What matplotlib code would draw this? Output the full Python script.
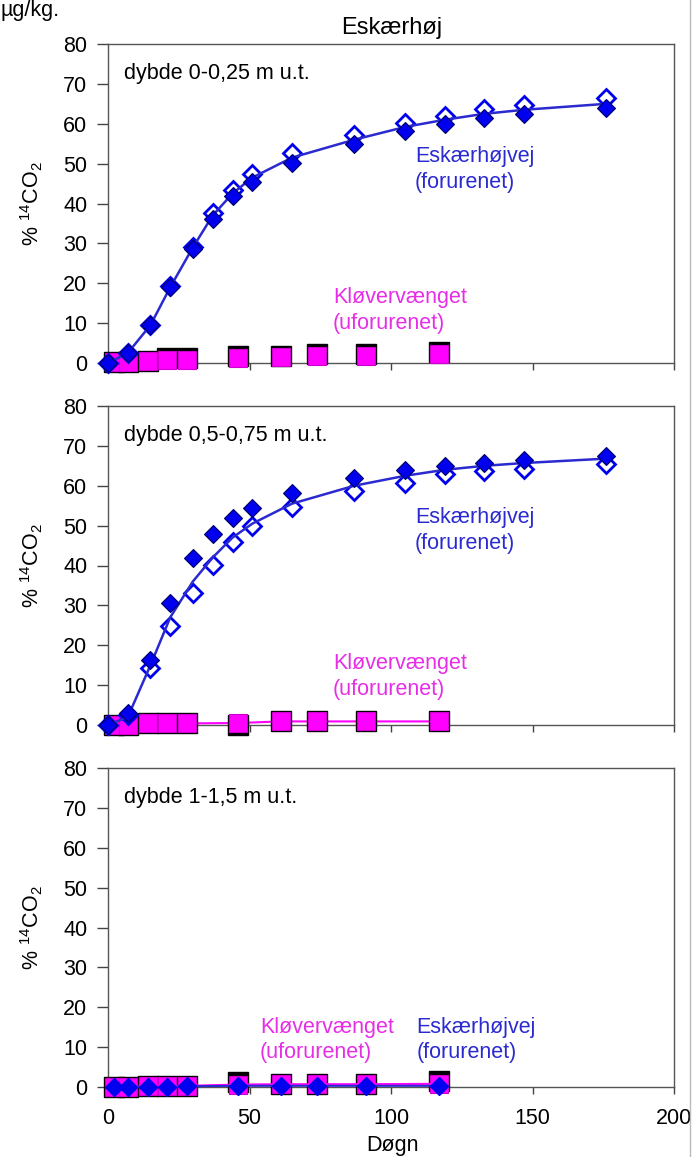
import matplotlib
matplotlib.use("Agg")
import matplotlib.pyplot as plt
import numpy as np

plt.rcParams['font.family'] = ['Liberation Sans', 'DejaVu Sans']
plt.rcParams['mathtext.fontset'] = 'custom'
plt.rcParams['mathtext.rm'] = 'Liberation Sans'
plt.rcParams['mathtext.it'] = 'Liberation Sans:italic'

# days sampled
days_esk = [0, 7, 15, 22, 30, 37, 44, 51, 65, 87, 105, 119, 133, 147, 176]
days_klo = [2, 7, 14, 21, 28, 46, 61, 74, 91, 117]

# depth 0-0.25 m
esk1_filled = [0, 2.5, 9.5, 19, 28.5, 36.2, 41.8, 45.3, 50.2, 55, 58.2, 60, 61.5, 62.5, 64]
esk1_open = [0, 2.5, 9.5, 19.2, 29, 37.5, 43.5, 47.5, 52.6, 57.3, 60.2, 62, 63.7, 64.7, 66.5]
esk1_fit = [0, 2.5, 9.5, 19, 29, 37, 42.5, 46.5, 51.5, 56, 59.2, 61, 62.5, 63.5, 65]
klo1 = [0.2, 0.3, 0.5, 0.7, 0.7, 1.2, 1.4, 1.8, 1.8, 2.2]
klo1_black = [0.2, 0.3, 0.5, 1.2, 1.2, 1.7, 1.8, 2.2, 2.2, 2.7]

# depth 0.5-0.75 m
esk2_filled = [0, 3, 16.2, 30.5, 41.8, 48, 52, 54.5, 58.3, 62, 64, 65, 65.8, 66.5, 67.5]
esk2_open = [0, 2.5, 14.2, 24.8, 33, 40.2, 45.8, 49.8, 54.6, 58.8, 60.8, 63, 63.8, 64.2, 65.5]
esk2_fit = [0, 2, 15, 27, 36, 42, 47, 50.5, 55.5, 60, 62.5, 64, 65, 65.7, 66.8]
klo2 = [0.1, 0.1, 0.4, 0.4, 0.4, 0.5, 0.9, 0.9, 0.9, 0.9]
klo2_black = [0.1, 0.1, 0.4, 0.4, 0.4, 0.1, 0.9, 0.9, 0.9, 0.9]

# depth 1-1.5 m
esk3 = [0, 0, 0, 0, 0.2, 0.3, 0.3, 0.3, 0.3, 0.3]
klo3 = [0, 0, 0.2, 0.2, 0.3, 0.6, 0.7, 0.7, 0.7, 0.8]
klo3_black = [0, 0, 0.2, 0.2, 0.3, 1.2, 0.7, 0.7, 0.7, 1.5]

BLUE = '#0000ee'
LBLUE = '#2a2ad0'
MAG = '#ff00ff'
TMAG = '#e62ee6'
FS = 15.5
LS = 1.3

W, H = 693, 1157
fig = plt.figure(figsize=(W / 100, H / 100), dpi=100)

tops = [44, 406, 768]
left, right = 108, 674
axes = []
for t in tops:
    ax = fig.add_axes([left / W, 1 - (t + 319) / H, (right - left) / W, 319 / H])
    axes.append(ax)


def style(ax, show_x):
    ax.set_xlim(0, 200)
    ax.set_ylim(0, 80)
    ax.set_yticks(range(0, 81, 10))
    ax.set_xticks(range(0, 201, 50))
    ax.tick_params(axis='y', direction='out', length=8, width=1, pad=7,
                   labelsize=FS, color='#444444')
    ax.tick_params(axis='x', direction='out', length=5, width=1, pad=10,
                   labelsize=FS, color='#444444', labelbottom=show_x)
    for s in ax.spines.values():
        s.set_color('#555555')
        s.set_linewidth(1)
    ax.set_ylabel('% $^{14}$CO$_2$', fontsize=FS)
    ax.yaxis.set_label_coords(-0.112, 0.5)


def squares(ax, d, mag, black):
    ax.plot(d, black, 's', ms=14, color='black', mec='black', zorder=3, clip_on=False)
    ax.plot(d, mag, 's', ms=13, color=MAG, mec='#cc00cc', mew=0.8, zorder=4, clip_on=False)


def esk_markers(ax, d, filled, opened, fit):
    ax.plot(d, opened, 'D', ms=9.5, mfc='white', mec=BLUE, mew=2, zorder=5, clip_on=False)
    ax.plot(d, fit, '-', color=LBLUE, lw=1.8, zorder=6, clip_on=False)
    ax.plot(d, filled, 'D', ms=9.5, mfc=BLUE, mec='#000066', mew=0.8, zorder=7, clip_on=False)


# panel 1
ax = axes[0]
style(ax, False)
squares(ax, days_klo, klo1, klo1_black)
esk_markers(ax, days_esk, esk1_filled, esk1_open, esk1_fit)
ax.text(5.7, 72.7, 'dybde 0-0,25 m u.t.', fontsize=FS, va='center')
ax.text(108.5, 48.6, 'Eskærhøjvej\n(forurenet)', color=LBLUE, fontsize=FS, va='center', linespacing=LS)
ax.text(79.5, 13.2, 'Kløvervænget\n(uforurenet)', color=TMAG, fontsize=FS, va='center', linespacing=LS)

# panel 2
ax = axes[1]
style(ax, False)
ax.plot(days_klo, klo2, '-', color=MAG, lw=1.5, zorder=3, clip_on=False)
squares(ax, days_klo, klo2, klo2_black)
esk_markers(ax, days_esk, esk2_filled, esk2_open, esk2_fit)
ax.text(5.7, 72.7, 'dybde 0,5-0,75 m u.t.', fontsize=FS, va='center')
ax.text(108.5, 48.8, 'Eskærhøjvej\n(forurenet)', color=LBLUE, fontsize=FS, va='center', linespacing=LS)
ax.text(79.5, 12.1, 'Kløvervænget\n(uforurenet)', color=TMAG, fontsize=FS, va='center', linespacing=LS)

# panel 3
ax = axes[2]
style(ax, True)
squares(ax, days_klo, klo3, klo3_black)
ax.plot(days_klo, klo3, '-', color=MAG, lw=1.5, zorder=5, clip_on=False)
ax.plot(days_klo, esk3, '-', color=LBLUE, lw=1.5, zorder=6, clip_on=False)
ax.plot(days_klo, esk3, 'D', ms=9.5, mfc=BLUE, mec=BLUE, zorder=7, clip_on=False)
ax.text(5.7, 72.7, 'dybde 1-1,5 m u.t.', fontsize=FS, va='center')
ax.text(53.7, 11.8, 'Kløvervænget\n(uforurenet)', color=TMAG, fontsize=FS, va='center', linespacing=LS)
ax.text(109, 11.8, 'Eskærhøjvej\n(forurenet)', color=LBLUE, fontsize=FS, va='center', linespacing=LS)

fig.text(392 / W, 1 - 28 / H, 'Eskærhøj', fontsize=17, ha='center', va='center')
fig.text(392 / W, 1 - 1146 / H, 'Døgn', fontsize=FS, ha='center', va='center')
fig.text(0.0, 1.0, 'µg/kg.', fontsize=FS, ha='left', va='top')
fig.add_artist(plt.Line2D([690 / W, 690 / W], [0, 1], color='#bbbbbb', lw=1))

fig.savefig('out.png', dpi=100)
